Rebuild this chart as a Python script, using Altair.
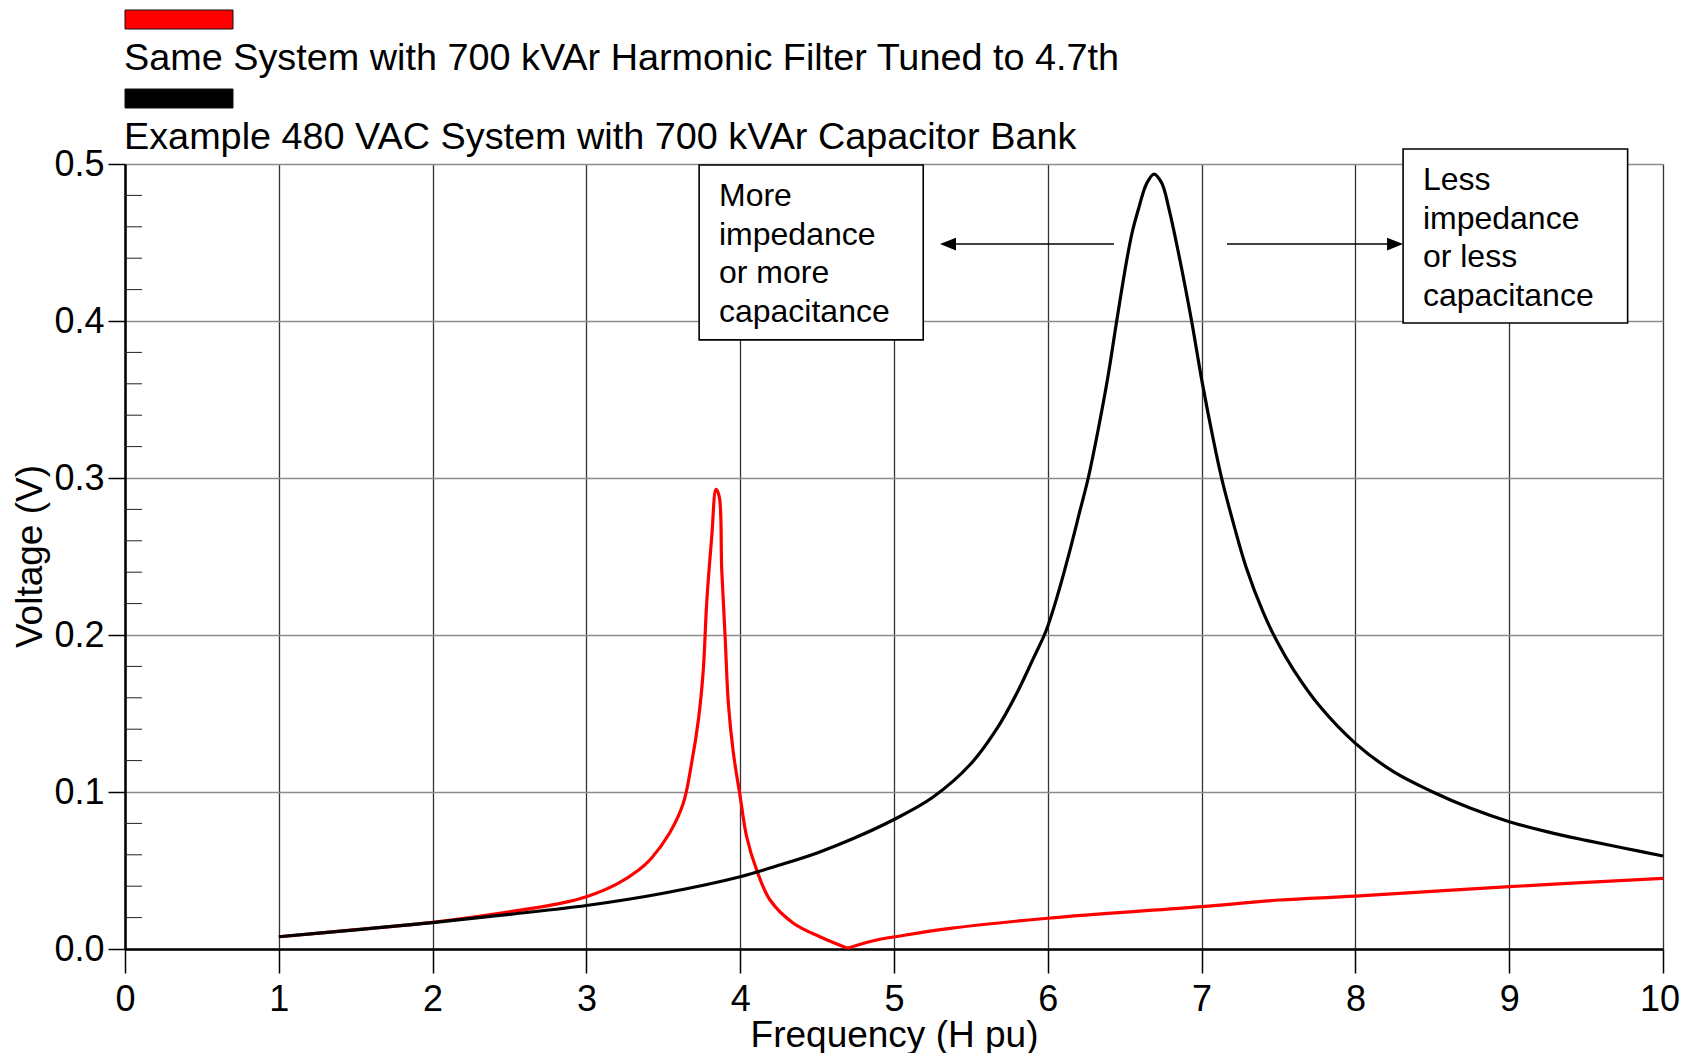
import altair as alt
import pandas as pd

# ---------------- data ----------------
black_x = [1.0, 1.5, 2.0, 2.5, 3.0, 3.5, 4.0, 4.25, 4.5, 4.75, 5.0, 5.25, 5.5, 5.67, 5.8,
           5.9, 5.99, 6.07, 6.14, 6.21, 6.263, 6.33, 6.39, 6.448, 6.51, 6.55, 6.59, 6.64,
           6.69, 6.74, 6.79, 6.86, 6.935, 7.0, 7.076, 7.13, 7.21, 7.29, 7.40, 7.49, 7.6,
           7.77, 8.0, 8.25, 8.5, 8.75, 9.0, 9.25, 9.5, 9.75, 10.0]
black_y = [0.0078, 0.0122, 0.0168, 0.0221, 0.0277, 0.0355, 0.0460, 0.0533, 0.0612, 0.0710,
           0.0825, 0.0965, 0.1180, 0.1405, 0.1632, 0.1838, 0.2030, 0.2275, 0.2525, 0.2795,
           0.3000, 0.3320, 0.3640, 0.4000, 0.4370, 0.4570, 0.4715, 0.4870, 0.4936, 0.4880,
           0.4705, 0.4384, 0.4000, 0.3630, 0.3245, 0.3000, 0.2700, 0.2430, 0.2145, 0.1960,
           0.1775, 0.1544, 0.1310, 0.1128, 0.1002, 0.0896, 0.0811, 0.0746, 0.0692, 0.0642,
           0.0592]

red_x = [1.0, 1.5, 2.0, 2.5, 2.83, 3.0, 3.2, 3.34, 3.42, 3.54, 3.63, 3.684, 3.728, 3.76,
         3.782, 3.815, 3.843, 3.864, 3.88, 3.902, 3.923, 3.956, 4.0, 4.042, 4.107,
         4.194, 4.346, 4.518, 4.697, 4.887, 5.039, 5.364, 6.0, 7.0, 7.51, 8.0, 9.0, 10.0]
red_y = [0.0078, 0.0123, 0.0170, 0.0237, 0.0291, 0.0333, 0.0415, 0.0503, 0.0575, 0.0737,
         0.0928, 0.1183, 0.1459, 0.1777, 0.2202, 0.2626, 0.2928, 0.2880, 0.2414, 0.1990,
         0.1565, 0.1246, 0.0970, 0.0715, 0.0503, 0.0312, 0.0164, 0.0078, 0.0005, 0.0057,
         0.0083, 0.0131, 0.0196, 0.0270, 0.0312, 0.0337, 0.0397, 0.0450]
red_notch = 4.697   # the red curve has a sharp V at the filter tuning point

series_names = ["Same System with 700 kVAr Harmonic Filter Tuned to 4.7th",
                "Example 480 VAC System with 700 kVAr Capacitor Bank"]
series_colors = ["#ff0000", "#000000"]

x_ticks = [0, 1, 2, 3, 4, 5, 6, 7, 8, 9, 10]
y_ticks = [0.0, 0.1, 0.2, 0.3, 0.4, 0.5]
y_minor = [0.02, 0.04, 0.06, 0.08, 0.12, 0.14, 0.16, 0.18, 0.22, 0.24, 0.26, 0.28,
           0.32, 0.34, 0.36, 0.38, 0.42, 0.44, 0.46, 0.48]

box_lines = [["More", "impedance", "or more", "capacitance"],
             ["Less", "impedance", "or less", "capacitance"]]
box_x1 = [3.733, 8.31]
box_x2 = [5.19, 9.77]
box_y1 = [0.4994, 0.5096]
box_y2 = [0.388, 0.3987]
box_text_x = [3.862, 8.439]
box_text_y = [0.4732, 0.4834]

arrow_y = [0.449, 0.449]
arrow_start = [6.430, 7.165]
arrow_tip_center = [5.351, 8.258]

FONT = "Liberation Sans"

# ---------------- tables ----------------
df_red = pd.DataFrame({"f": red_x, "v": red_y})
df_red_a = df_red[df_red.f <= red_notch]
df_red_b = df_red[df_red.f >= red_notch]
df_black = pd.DataFrame({"f": black_x, "v": black_y})
df_minor = pd.DataFrame({"v": y_minor})
df_box = pd.DataFrame({"x1": box_x1, "x2": box_x2, "y1": box_y1, "y2": box_y2})
df_txt = pd.DataFrame({"x": box_text_x, "y": box_text_y, "t": box_lines})
df_arrow = pd.DataFrame({"a": arrow_start, "b": arrow_tip_center, "y": arrow_y})
df_head = pd.DataFrame({"x": arrow_tip_center, "y": arrow_y, "k": ["left", "right"]})

xs = alt.Scale(domain=[0, 10], nice=False, zero=False)
ys = alt.Scale(domain=[0, 0.5], nice=False, zero=False)

x_axis = alt.Axis(values=x_ticks, format="d", tickSize=24, tickWidth=1.5, tickColor="black",
                  domainColor="black", domainWidth=2.5, labelFontSize=36, labelFont=FONT,
                  labelColor="black", labelPadding=9, labelFlush=False,
                  labelOffset={"condition": {"test": "datum.value == 10", "value": -3.5},
                               "value": 0},
                  grid=True, gridColor="#333333", gridWidth=1.3, gridOpacity=1,
                  title="Frequency (H pu)", titleFontSize=37, titleFont=FONT,
                  titleFontWeight="normal", titleColor="black",
                  titleBaseline="alphabetic", titleY=97)
y_axis = alt.Axis(values=y_ticks, format=".1f", tickSize=17, tickWidth=1.5, tickColor="black",
                  domainColor="black", domainWidth=2.5, labelFontSize=36, labelFont=FONT,
                  labelColor="black", labelPadding=4, labelFlush=False,
                  grid=True, gridColor="#8c8c8c", gridWidth=1.5, gridOpacity=1,
                  title="Voltage (V)", titleFontSize=37, titleFont=FONT,
                  titleFontWeight="normal", titleColor="black", titleAngle=270,
                  titleX=-95, titleY=392, titleBaseline="middle", titleAlign="center")

red_a = alt.Chart(df_red_a).mark_line(color=series_colors[0], strokeWidth=3.2,
                                      interpolate="catmull-rom").encode(
    x=alt.X("f:Q", scale=xs, axis=x_axis),
    y=alt.Y("v:Q", scale=ys, axis=y_axis),
)
red_b = alt.Chart(df_red_b).mark_line(color=series_colors[0], strokeWidth=3.2,
                                      interpolate="catmull-rom").encode(
    x=alt.X("f:Q", scale=xs), y=alt.Y("v:Q", scale=ys))
black_line = alt.Chart(df_black).mark_line(color=series_colors[1], strokeWidth=3.2,
                                           interpolate="catmull-rom").encode(
    x=alt.X("f:Q", scale=xs), y=alt.Y("v:Q", scale=ys))

minor = alt.Chart(df_minor).mark_rule(color="#222222", strokeWidth=1).encode(
    y=alt.Y("v:Q", scale=ys), x=alt.value(0), x2=alt.value(17))

boxes = alt.Chart(df_box).mark_rect(fill="white", stroke="black", strokeWidth=1.6).encode(
    x=alt.X("x1:Q", scale=xs), x2="x2:Q", y=alt.Y("y1:Q", scale=ys), y2="y2:Q")

box_text = alt.Chart(df_txt).mark_text(align="left", baseline="alphabetic", fontSize=32,
                                       font=FONT, color="black", lineHeight=38.6).encode(
    x=alt.X("x:Q", scale=xs), y=alt.Y("y:Q", scale=ys), text="t")

arrows = alt.Chart(df_arrow).mark_rule(color="black", strokeWidth=1.6).encode(
    x=alt.X("a:Q", scale=xs), x2="b:Q", y=alt.Y("y:Q", scale=ys))

head_l = alt.Chart(df_head[df_head.k == "left"]).mark_point(
    shape="M -1 0 L 1 -0.8 L 1 0.8 Z", filled=True, size=256, color="black", opacity=1
).encode(x=alt.X("x:Q", scale=xs), y=alt.Y("y:Q", scale=ys))
head_r = alt.Chart(df_head[df_head.k == "right"]).mark_point(
    shape="M 1 0 L -1 -0.8 L -1 0.8 Z", filled=True, size=256, color="black", opacity=1
).encode(x=alt.X("x:Q", scale=xs), y=alt.Y("y:Q", scale=ys))

# legend (custom, swatch above label)
dummy = pd.DataFrame({"d": [0]})
legend_layers = []
swatch_tops = [-154, -75]
text_base = [-94, -15]
for name, col, st, tb in zip(series_names, series_colors, swatch_tops, text_base):
    legend_layers.append(
        alt.Chart(dummy).mark_rect(fill=col, stroke="#111111", strokeWidth=1).encode(
            x=alt.value(0), x2=alt.value(108), y=alt.value(st), y2=alt.value(st + 19)))
    legend_layers.append(
        alt.Chart(dummy).mark_text(align="left", baseline="alphabetic", fontSize=37.8,
                                   font=FONT, color="black").encode(
            x=alt.value(-1), y=alt.value(tb), text=alt.value(name)))

chart = alt.layer(red_a, red_b, black_line, minor, boxes, box_text, arrows, head_l, head_r,
                  *legend_layers).properties(
    width=1538, height=785,
    autosize=alt.AutoSizeParams(type="none"),
    padding={"left": 117, "top": 156, "right": 17, "bottom": 104},
).configure_view(stroke="black", strokeWidth=2).configure(background="white")

chart.save("out.html", embed_options={"renderer": "svg", "actions": False})
